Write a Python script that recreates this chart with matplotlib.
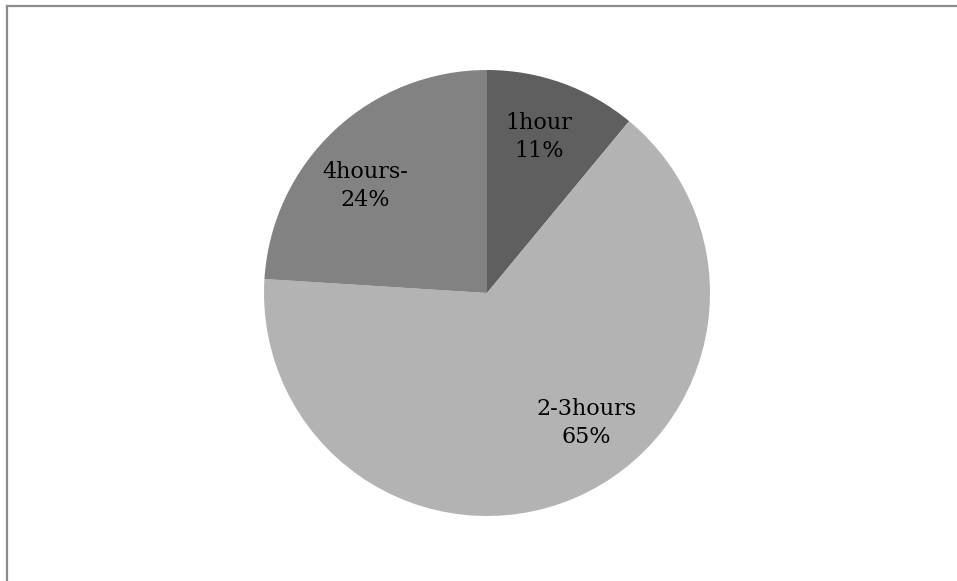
import matplotlib
matplotlib.use("Agg")
import matplotlib.pyplot as plt
from matplotlib.lines import Line2D

categories = ["1hour", "2-3hours", "4hours-"]
shares = [11, 65, 24]
colors = ["#5f5f5f", "#b3b3b3", "#828282"]

W, H = 957, 581
fig = plt.figure(figsize=(W / 100, H / 100), dpi=100)
ax = fig.add_axes([0, 0, 1, 1])

center = (487, H - 293)
radius = 223
wedges, _ = ax.pie(shares, colors=colors, startangle=90, counterclock=False,
                   center=center, radius=radius, frame=True,
                   wedgeprops=dict(linewidth=0))
ax.set_xlim(0, W)
ax.set_ylim(0, H)
ax.set_aspect("equal")
ax.axis("off")

# label anchor points (pixel offsets from the pie centre)
label_offsets = [(52, 156), (99, -130), (-122, 107)]
for name, val, (dx, dy) in zip(categories, shares, label_offsets):
    ax.text(center[0] + dx, center[1] + dy, f"{name}\n{val}%",
            ha="center", va="center", fontsize=16, family="DejaVu Serif",
            color="black", linespacing=1.3)

# chart frame (top and left edges)
fig.add_artist(Line2D([6.5 / W, 1], [1 - 6 / H, 1 - 6 / H], color="#8c8c8c",
                      lw=1.6, transform=fig.transFigure))
fig.add_artist(Line2D([6.5 / W, 6.5 / W], [0, 1 - 6 / H], color="#8c8c8c",
                      lw=1.6, transform=fig.transFigure))

fig.savefig("out.png", dpi=100, facecolor="white")
